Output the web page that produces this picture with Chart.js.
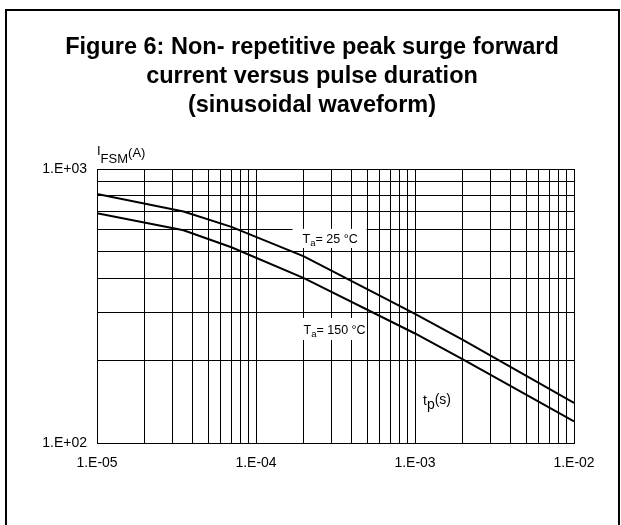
<!DOCTYPE html>
<html>
<head>
<meta charset="utf-8">
<script src="https://cdn.jsdelivr.net/npm/chart.js@4.4.1/dist/chart.umd.min.js"></script>
<style>
  html, body { margin: 0; padding: 0; background: #fff; }
  canvas { display: block; }
</style>
</head>
<body>
<canvas id="grafico" width="621" height="525"></canvas>
<script>
// Datos (tp en s, IFSM en A)
const pulseTime = [1e-5, 3.5e-5, 7e-5, 2e-4, 1e-3, 2e-3, 1e-2];
const ifsm25 = [810, 700, 615, 480, 296, 238, 140];
const ifsm150 = [690, 598, 518, 400, 251, 202, 120];

// Ejes
const xDecades = [1e-5, 1e-4, 1e-3, 1e-2];
const xTickLabels = ['1.E-05', '1.E-04', '1.E-03', '1.E-02'];
const minorSteps = [1, 2, 3, 4, 5, 6, 7, 8, 9];
const yTicks = [100, 200, 300, 400, 500, 600, 700, 800, 900, 1000];
const yTickLabels = { 100: '1.E+02', 1000: '1.E+03' };

const titleLines = [
  'Figure 6: Non- repetitive peak surge forward',
  'current versus pulse duration',
  '(sinusoidal waveform)'
];

// Etiquetas de curvas: ancla en unidades de datos, caja en px relativos
const curveLabels = [
  { t: 1.963e-4, i: 535, sub: 'a', text: '= 25 °C', box: [-10, 64, -14.5, 4.5] },
  { t: 1.992e-4, i: 250, sub: 'a', text: '= 150 °C', box: [-3.5, 63, -16, 6] }
];

const xGrid = [];
xDecades.forEach((d, k) => {
  if (k === xDecades.length - 1) { xGrid.push(d); return; }
  minorSteps.forEach(m => xGrid.push(+(d * m).toPrecision(3)));
});

function labelFor(list, labels, v) {
  const k = list.findIndex(d => Math.abs(d - v) / d < 1e-6);
  return k >= 0 ? labels[k] : '';
}

const FONT = '"Liberation Sans", Arial, sans-serif';

// Texto con subíndice (o desplazado)
function drawParts(ctx, x, parts) {
  parts.forEach(p => {
    ctx.font = p.size + 'px ' + FONT;
    ctx.fillText(p.s, x, p.y);
    x += ctx.measureText(p.s).width;
  });
  return x;
}

const decor = {
  id: 'decor',
  beforeDraw(chart) {
    const ctx = chart.ctx;
    ctx.save();
    ctx.fillStyle = '#fff';
    ctx.fillRect(0, 0, chart.width, chart.height);
    // marco
    ctx.strokeStyle = '#000';
    ctx.lineWidth = 2;
    ctx.beginPath();
    ctx.moveTo(6, chart.height);
    ctx.lineTo(6, 10);
    ctx.lineTo(619, 10);
    ctx.lineTo(619, chart.height);
    ctx.stroke();
    // título
    ctx.fillStyle = '#000';
    ctx.font = 'bold 23.5px ' + FONT;
    ctx.textBaseline = 'alphabetic';
    ctx.textAlign = 'center';
    titleLines.forEach((line, k) => ctx.fillText(line, 312, 54 + k * 29));
    ctx.restore();
  },
  afterDatasetsDraw(chart) {
    const ctx = chart.ctx;
    const xs = chart.scales.x, ys = chart.scales.y;
    ctx.save();
    ctx.fillStyle = '#000';
    ctx.textAlign = 'left';
    ctx.textBaseline = 'alphabetic';
    // título eje Y
    drawParts(ctx, 97, [
      { s: 'I', size: 13, y: 155 },
      { s: 'FSM', size: 13, y: 163 },
      { s: '(A)', size: 13, y: 157 }
    ]);
    // título eje X
    drawParts(ctx, 423, [
      { s: 't', size: 14, y: 405 },
      { s: 'p', size: 14, y: 409 },
      { s: '(s)', size: 14, y: 404 }
    ]);
    // etiquetas de curvas
    curveLabels.forEach(lb => {
      const x = xs.getPixelForValue(lb.t);
      const y = ys.getPixelForValue(lb.i);
      const b = lb.box;
      ctx.fillStyle = '#fff';
      ctx.fillRect(x + b[0], y + b[2], b[1] - b[0], b[3] - b[2]);
      ctx.fillStyle = '#000';
      drawParts(ctx, x, [
        { s: 'T', size: 12.5, y: y },
        { s: lb.sub, size: 9.5, y: y + 3 },
        { s: lb.text, size: 12.5, y: y }
      ]);
    });
    ctx.restore();
  }
};

new Chart(document.getElementById('grafico'), {
  type: 'line',
  data: {
    datasets: [
      {
        label: 'Ta = 25 °C',
        data: pulseTime.map((t, k) => ({ x: t, y: ifsm25[k] })),
        borderColor: '#000',
        borderWidth: 2,
        pointRadius: 0,
        tension: 0
      },
      {
        label: 'Ta = 150 °C',
        data: pulseTime.map((t, k) => ({ x: t, y: ifsm150[k] })),
        borderColor: '#000',
        borderWidth: 2,
        pointRadius: 0,
        tension: 0
      }
    ]
  },
  options: {
    responsive: false,
    animation: false,
    devicePixelRatio: 1,
    layout: { padding: { top: 169, right: 47, left: 0, bottom: 0 } },
    plugins: { legend: { display: false }, tooltip: { enabled: false } },
    scales: {
      x: {
        type: 'logarithmic',
        min: 1e-5,
        max: 1e-2,
        afterBuildTicks: s => { s.ticks = xGrid.map(v => ({ value: v })); },
        afterFit: s => { s.height = 82; },
        ticks: {
          autoSkip: false,
          maxRotation: 0,
          padding: 12,
          color: '#000',
          font: { family: FONT, size: 14 },
          callback: v => labelFor(xDecades, xTickLabels, v)
        },
        grid: { color: '#000', lineWidth: 1, drawTicks: false },
        border: { color: '#000', width: 1 }
      },
      y: {
        type: 'logarithmic',
        min: 100,
        max: 1000,
        afterBuildTicks: s => { s.ticks = yTicks.map(v => ({ value: v })); },
        afterFit: s => { s.width = 97; },
        ticks: {
          autoSkip: false,
          padding: 10,
          color: '#000',
          font: { family: FONT, size: 14 },
          callback: v => yTickLabels[v] || ''
        },
        grid: { color: '#000', lineWidth: 1, drawTicks: false },
        border: { color: '#000', width: 1 }
      }
    }
  },
  plugins: [decor]
});
</script>
</body>
</html>
